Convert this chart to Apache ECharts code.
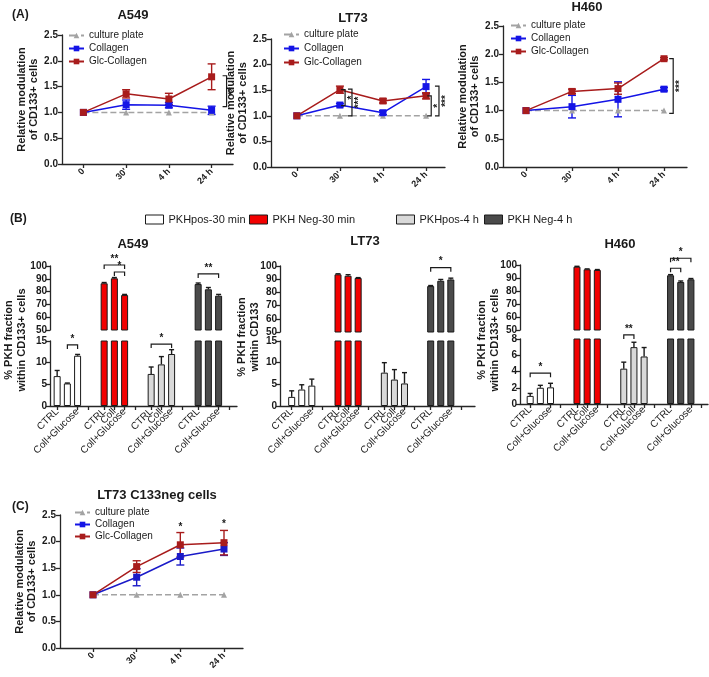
<!DOCTYPE html>
<html>
<head>
<meta charset="utf-8">
<script src="https://cdn.jsdelivr.net/npm/echarts@6/dist/echarts.min.js"></script>
<style>
  html, body { margin: 0; padding: 0; background: #fff; }
  #main { width: 709px; height: 677px; }
</style>
</head>
<body>
<div id="main"></div>
<script>
// ---- (A) and (C): relative modulation of CD133+ cells ----
const timeLabels = ['0', "30'", '4 h', '24 h'];
const lineNames = ['culture plate', 'Collagen', 'Glc-Collagen'];

const a549Plate = [1, 1, 1, 1];
const a549Coll = [1, 1.15, 1.14, 1.04];
const a549CollErr = [0, 0.09, 0.05, 0.08];
const a549Glc = [1, 1.36, 1.26, 1.69];
const a549GlcErr = [0, 0.08, 0.11, 0.25];
const a549Sig = [[3.35, 1.11, 1.71, '**']];   // [x, from, to, label]

const lt73Plate = [1, 1, 1, 1];
const lt73Coll = [1, 1.21, 1.06, 1.57];
const lt73CollErr = [0, 0.03, 0.04, 0.14];
const lt73Glc = [1, 1.51, 1.29, 1.39];
const lt73GlcErr = [0, 0.07, 0.04, 0.06];
const lt73Sig = [[1.12, 1.2, 1.51, '*'], [1.28, 1.0, 1.52, '***'], [3.12, 1.0, 1.39, '*'], [3.3, 1.0, 1.58, '***']];

const h460Plate = [1, 1, 1, 1];
const h460Coll = [1, 1.07, 1.2, 1.38];
const h460CollErr = [0, 0.2, 0.31, 0.03];
const h460Glc = [1, 1.34, 1.39, 1.92];
const h460GlcErr = [0, 0.04, 0.1, 0.02];
const h460Sig = [[3.2, 0.95, 1.92, '***']];

const negPlate = [1, 1, 1, 1];
const negColl = [1, 1.33, 1.72, 1.86];
const negCollErr = [0, 0.16, 0.16, 0.12];
const negGlc = [1, 1.53, 1.94, 1.98];
const negGlcErr = [0, 0.11, 0.23, 0.23];
const negStars = [[2, 2.31, '*'], [3, 2.36, '*']];

// ---- (B): % PKH fraction ----
const bCats = ['CTRL', 'Coll', 'Coll+Glucose'];
const bGroups = ['PKHpos-30 min', 'PKH Neg-30 min', 'PKHpos-4 h', 'PKH Neg-4 h'];
const bA549 = [[6.9, 5.2, 11.6], [86.5, 90.4, 77.3], [7.4, 9.6, 12.0], [85.9, 81.8, 76.8]];
const bA549Err = [[1.3, 0.1, 0.3], [0.6, 0.6, 0.5], [1.6, 1.8, 1.0], [0.8, 1.4, 1.0]];
const bA549Sig = [[0, 1, 2, 14.1, '*'], [1, 0, 2, 100.8, '**'], [1, 1, 2, 95.3, '*'], [2, 0, 2, 14.3, '*'], [3, 0, 2, 93.8, '**']];
const bLT73 = [[2.1, 3.8, 4.7], [93.7, 92.6, 90.9], [7.7, 6.1, 5.2], [84.8, 88.8, 89.8]];
const bLT73Err = [[1.4, 1.1, 1.5], [0.4, 0.8, 0.3], [2.3, 2.3, 2.5], [0.4, 1.0, 1.0]];
const bLT73Sig = [[3, 0, 2, 98.7, '*']];
const bH460 = [[1.0, 2.0, 2.05], [98.7, 96.7, 96.2], [4.35, 7.0, 5.85], [92.1, 86.9, 89.0]];
const bH460Err = [[0.3, 0.3, 0.5], [0.3, 0.3, 0.3], [0.8, 0.6, 1.1], [0.5, 0.8, 0.6]];
const bH460Sig = [[0, 0, 2, 3.8, '*'], [2, 0, 1, 8.5, '**'], [3, 0, 1, 97.5, '**'], [3, 0, 2, 105.2, '*']];

const FONT = '"Liberation Sans", Arial, sans-serif';
const INK = '#1a1a1a';
const axisStyle = { color: '#262626', width: 1.3 };
const bColors = ['#ffffff', '#f20000', '#d9d9d9', '#4a4a4a'];
const txt = (size, weight) => ({ fontFamily: FONT, fontSize: size, fontWeight: weight || 'normal', color: INK });

const option = {
  animation: false,
  backgroundColor: '#fff',
  title: [], legend: [], grid: [], xAxis: [], yAxis: [], series: [], graphic: []
};

function addTitle(text, x, y, size, align) {
  option.title.push({ text, left: x, top: y, textAlign: align || 'center', padding: 0, textStyle: txt(size, 'bold') });
}

// error bars: [x, value, err]
function errorBars(color, cap, upOnly, ymin, ymax) {
  return function (params, api) {
    const x = api.value(0), v = api.value(1), e = api.value(2);
    if (!e || v < ymin || v > ymax) return null;
    const t = api.coord([x, v + e]);
    const b = api.coord([x, upOnly ? v : v - e]);
    const st = { stroke: color, lineWidth: 1.4 };
    const kids = [
      { type: 'line', shape: { x1: t[0], y1: t[1], x2: b[0], y2: b[1] }, style: st },
      { type: 'line', shape: { x1: t[0] - cap, y1: t[1], x2: t[0] + cap, y2: t[1] }, style: st }
    ];
    if (!upOnly) kids.push({ type: 'line', shape: { x1: b[0] - cap, y1: b[1], x2: b[0] + cap, y2: b[1] }, style: st });
    return { type: 'group', children: kids };
  };
}

function vBracket(list) {
  return function (params, api) {
    const s = list[params.dataIndex];
    const a = api.coord([s[0], s[1]]), b = api.coord([s[0], s[2]]);
    return { type: 'group', children: [
      { type: 'polyline', shape: { points: [[a[0] - 4, a[1]], [a[0], a[1]], [b[0], b[1]], [b[0] - 4, b[1]]] },
        style: { stroke: INK, lineWidth: 1.2, fill: null } },
      { type: 'text', x: a[0] + 2, y: (a[1] + b[1]) / 2, rotation: Math.PI / 2,
        style: { text: s[3], align: 'center', verticalAlign: 'top', fontSize: 10, fontWeight: 'bold', fontFamily: FONT, fill: INK } }
    ] };
  };
}

function hBracket(list) {
  return function (params, api) {
    const s = list[params.dataIndex];
    const a = api.coord([api.value(0), api.value(1)]);
    const b = api.coord([api.value(2), api.value(1)]);
    return { type: 'group', children: [
      { type: 'polyline', shape: { points: [[a[0], a[1] + 4], [a[0], a[1]], [b[0], b[1]], [b[0], b[1] + 4]] },
        style: { stroke: INK, lineWidth: 1.2, fill: null } },
      { type: 'text', x: (a[0] + b[0]) / 2, y: a[1] - 1,
        style: { text: s[4], align: 'center', verticalAlign: 'bottom', fontSize: 10, fontWeight: 'bold', fontFamily: FONT, fill: INK } }
    ] };
  };
}

function addLineChart(p) {
  const gi = option.grid.length;
  option.grid.push({ left: p.left, top: p.top, width: p.width, height: p.height, containLabel: false, outerBoundsMode: 'none' });
  option.xAxis.push({
    gridIndex: gi, type: 'value', min: p.xmin, max: p.xmax,
    axisLine: { show: true, onZero: false, lineStyle: axisStyle },
    axisTick: { show: true, customValues: [0, 1, 2, 3], length: 4, lineStyle: axisStyle },
    axisLabel: Object.assign({ customValues: [0, 1, 2, 3], formatter: v => timeLabels[Math.round(v)], rotate: 45, margin: 6, hideOverlap: false }, txt(9, 'bold')),
    splitLine: { show: false }
  });
  option.yAxis.push({
    gridIndex: gi, type: 'value', min: 0, max: 2.5, interval: 0.5,
    name: 'Relative modulation\nof CD133+ cells', nameLocation: 'middle', nameGap: p.nameGap,
    nameTextStyle: Object.assign({ lineHeight: 12 }, txt(11, 'bold')),
    axisLine: { show: true, onZero: false, lineStyle: axisStyle },
    axisTick: { show: true, length: 4, lineStyle: axisStyle },
    axisLabel: Object.assign({ formatter: v => v.toFixed(1), margin: 4 }, txt(10, 'bold')),
    splitLine: { show: false }
  });
  const sets = [
    { name: lineNames[0], data: p.plate, err: null, color: '#a3a3a3', symbol: 'triangle', size: 6, dash: 'dashed' },
    { name: lineNames[1], data: p.coll, err: p.collErr, color: p.blue || '#1414e6', symbol: 'rect', size: 7, dash: 'solid' },
    { name: lineNames[2], data: p.glc, err: p.glcErr, color: '#a81c1c', symbol: 'rect', size: 7, dash: 'solid' }
  ];
  sets.forEach(s => {
    if (s.err) {
      option.series.push({
        type: 'custom', xAxisIndex: gi, yAxisIndex: gi, silent: true, z: 2,
        data: s.data.map((v, i) => [i, v, s.err[i]]),
        renderItem: errorBars(s.color, 4, false, -1, 10)
      });
    }
    option.series.push({
      type: 'line', name: s.name, xAxisIndex: gi, yAxisIndex: gi, z: 3,
      data: s.data.map((v, i) => [i, v]),
      symbol: s.symbol, symbolSize: s.size,
      itemStyle: { color: s.color },
      lineStyle: { color: s.color, width: 1.5, type: s.dash }
    });
  });
  if (p.sig) {
    option.series.push({
      type: 'custom', xAxisIndex: gi, yAxisIndex: gi, silent: true, z: 4,
      data: p.sig.map(s => [s[0], s[1]]), renderItem: vBracket(p.sig)
    });
  }
  if (p.stars) {
    option.series.push({
      type: 'custom', xAxisIndex: gi, yAxisIndex: gi, silent: true, z: 4,
      data: p.stars.map(s => [s[0], s[1]]),
      renderItem: (params, api) => {
        const c = api.coord([api.value(0), api.value(1)]);
        return { type: 'text', x: c[0], y: c[1] - 3,
          style: { text: p.stars[params.dataIndex][2], align: 'center', verticalAlign: 'top', fontSize: 10, fontWeight: 'bold', fontFamily: FONT, fill: INK } };
      }
    });
  }
  option.legend.push({
    data: lineNames, left: p.legLeft, top: p.legTop, orient: 'vertical', padding: 0,
    itemWidth: 15, itemHeight: 7, itemGap: p.legGap || 2, selectedMode: false,
    textStyle: Object.assign({ lineHeight: 11 }, txt(10))
  });
}

function addBarChart(p) {
  const gu = option.grid.length, gl = gu + 1;
  option.grid.push({ left: p.left, width: p.width, top: p.upTop, height: p.upBottom - p.upTop, containLabel: false, outerBoundsMode: 'none' });
  option.grid.push({ left: p.left, width: p.width, top: p.lowTop, height: p.lowBottom - p.lowTop, containLabel: false, outerBoundsMode: 'none' });
  const pos = (g, i) => g * 46 + i * 10;
  const barVals = [], tickVals = [];
  for (let g = 0; g < 4; g++) {
    for (let i = 0; i < 3; i++) { barVals.push(pos(g, i)); tickVals.push(pos(g, i)); }
    tickVals.push(pos(g, 3));
  }
  option.xAxis.push({ gridIndex: gu, type: 'value', min: p.xmin, max: p.xmax, show: false });
  option.xAxis.push({
    gridIndex: gl, type: 'value', min: p.xmin, max: p.xmax,
    axisLine: { show: true, onZero: false, lineStyle: axisStyle },
    axisTick: { show: true, customValues: tickVals, length: 4, lineStyle: axisStyle },
    axisLabel: Object.assign({
      customValues: barVals, formatter: v => bCats[Math.round((v % 46) / 10)],
      rotate: 45, margin: 4, hideOverlap: false, showMinLabel: true, showMaxLabel: true
    }, txt(10)),
    splitLine: { show: false }
  });
  const yCommon = {
    type: 'value',
    axisLine: { show: true, onZero: false, lineStyle: axisStyle },
    axisTick: { show: true, length: 4, lineStyle: axisStyle },
    axisLabel: Object.assign({ margin: 3 }, txt(10, 'bold')),
    splitLine: { show: false }
  };
  option.yAxis.push(Object.assign({ gridIndex: gu, min: 50, max: 100, interval: 10 }, yCommon));
  option.yAxis.push(Object.assign({ gridIndex: gl, min: 0, max: p.lowMax, interval: p.lowInterval }, yCommon));

  [gu, gl].forEach((gi, k) => {
    const ymin = k ? 0 : 50, ymax = k ? p.lowMax : 100;
    for (let g = 0; g < 4; g++) {
      // upper (broken) part only carries the PKH Neg bars
      if (!k && (g === 0 || g === 2)) continue;
      option.series.push({
        type: 'bar', name: bGroups[g], xAxisIndex: gi, yAxisIndex: gi, z: 2,
        barWidth: 7, barGap: '-100%',
        data: p.data[g].map((v, i) => [pos(g, i), v]),
        itemStyle: { color: bColors[g], borderColor: INK, borderWidth: 1 }
      });
    }
    const errData = [];
    for (let g = 0; g < 4; g++) for (let i = 0; i < 3; i++) errData.push([pos(g, i), p.data[g][i], p.err[g][i]]);
    option.series.push({
      type: 'custom', xAxisIndex: gi, yAxisIndex: gi, silent: true, z: 3,
      data: errData, renderItem: errorBars(INK, 2.5, true, ymin, ymax)
    });
    const sig = p.sig.filter(s => (s[3] > 40) === !k);
    if (sig.length) {
      option.series.push({
        type: 'custom', xAxisIndex: gi, yAxisIndex: gi, silent: true, z: 4,
        data: sig.map(s => [pos(s[0], s[1]), s[3], pos(s[0], s[2])]), renderItem: hBracket(sig)
      });
    }
  });
  option.graphic.push({
    type: 'text', x: p.nameX, y: p.nameY, rotation: Math.PI / 2,
    style: { text: p.name, align: 'center', verticalAlign: 'middle', fontSize: 11, fontWeight: 'bold', fontFamily: FONT, fill: INK, lineHeight: 13 }
  });
}

// ---- titles ----
addTitle('(A)', 12, 9, 12, 'left');
addTitle('A549', 133, 9, 13);
addTitle('LT73', 353, 12, 13);
addTitle('H460', 587, 1, 13);
addTitle('(B)', 10, 213, 12, 'left');
addTitle('A549', 133, 238, 13);
addTitle('LT73', 365, 235, 13);
addTitle('H460', 620, 238, 13);
addTitle('(C)', 12, 501, 12, 'left');
addTitle('LT73 C133neg cells', 157, 489, 13);

// ---- panel A ----
addLineChart({ left: 62, top: 35, width: 171, height: 129, xmin: -0.5, xmax: 3.5, nameGap: 17,
  plate: a549Plate, coll: a549Coll, collErr: a549CollErr, glc: a549Glc, glcErr: a549GlcErr, sig: a549Sig,
  legLeft: 68, legTop: 30 });
addLineChart({ left: 271, top: 39, width: 174, height: 128, xmin: -0.6, xmax: 3.44, nameGap: 16,
  plate: lt73Plate, coll: lt73Coll, collErr: lt73CollErr, glc: lt73Glc, glcErr: lt73GlcErr, sig: lt73Sig,
  legLeft: 283, legTop: 29, legGap: 3 });
addLineChart({ left: 503, top: 26, width: 184, height: 141, xmin: -0.5, xmax: 3.5, nameGap: 20,
  plate: h460Plate, coll: h460Coll, collErr: h460CollErr, glc: h460Glc, glcErr: h460GlcErr, sig: h460Sig,
  legLeft: 510, legTop: 20 });

// ---- panel B ----
bGroups.forEach((name, g) => {
  option.legend.push({
    data: [{ name, icon: 'rect' }], left: [145, 249, 396, 484][g], top: 213, padding: 0,
    itemWidth: 18, itemHeight: 9, selectedMode: false,
    itemStyle: { borderColor: INK, borderWidth: 1 },
    textStyle: Object.assign({ lineHeight: 13 }, txt(11))
  });
});
addBarChart({ left: 50, width: 187, xmin: -7, xmax: 176, upTop: 266, upBottom: 330, lowTop: 341, lowBottom: 406,
  lowMax: 15, lowInterval: 5, data: bA549, err: bA549Err, sig: bA549Sig,
  name: '% PKH fraction\nwithin CD133+ cells', nameX: 15, nameY: 340 });
addBarChart({ left: 280, width: 195, xmin: -11.6, xmax: 182, upTop: 266, upBottom: 332, lowTop: 341, lowBottom: 406,
  lowMax: 15, lowInterval: 5, data: bLT73, err: bLT73Err, sig: bLT73Sig,
  name: '% PKH fraction\nwithin CD133', nameX: 248, nameY: 337 });
addBarChart({ left: 520, width: 188, xmin: -10, xmax: 174.8, upTop: 265, upBottom: 330, lowTop: 339, lowBottom: 404,
  lowMax: 8, lowInterval: 2, data: bH460, err: bH460Err, sig: bH460Sig,
  name: '% PKH fraction\nwithin CD133+ cells', nameX: 488, nameY: 340 });

// ---- panel C ----
addLineChart({ left: 60, top: 515, width: 183, height: 133, xmin: -0.755, xmax: 3.435, nameGap: 15,
  plate: negPlate, coll: negColl, collErr: negCollErr, glc: negGlc, glcErr: negGlcErr, stars: negStars,
  blue: '#1a1ac8', legLeft: 74, legTop: 507, legGap: 1 });

const chart = echarts.init(document.getElementById('main'), null, { renderer: 'canvas' });
chart.setOption(option);
</script>
</body>
</html>
